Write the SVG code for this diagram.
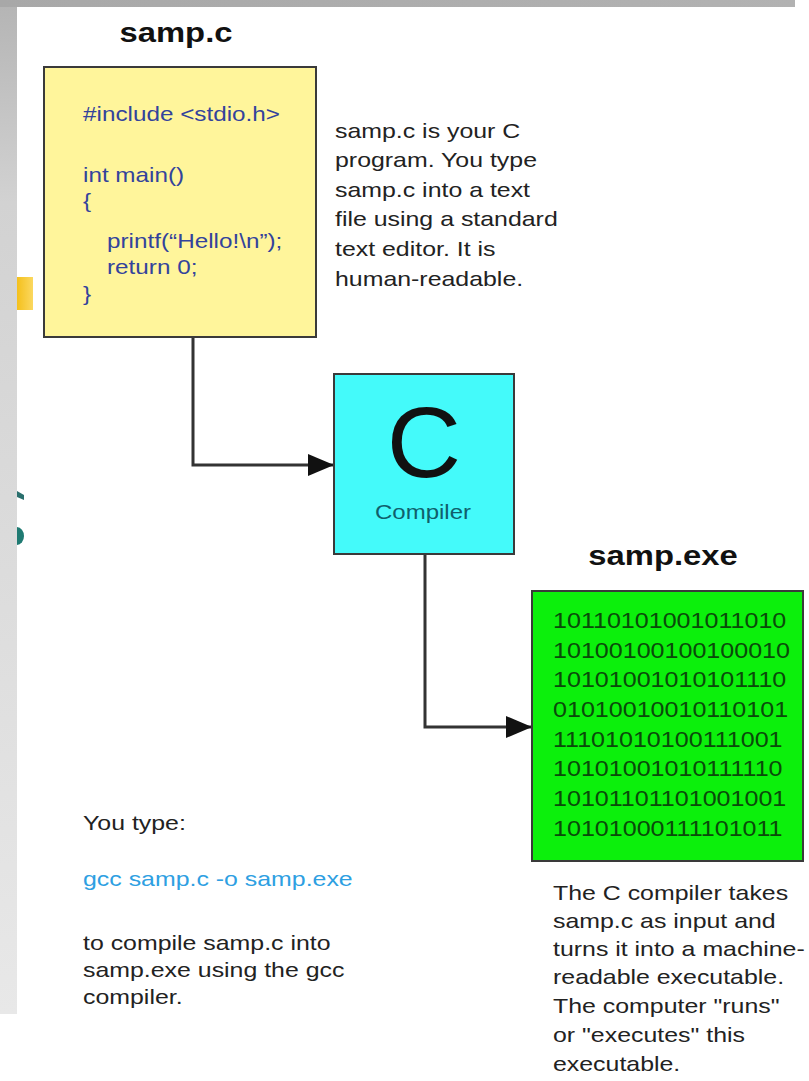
<svg xmlns="http://www.w3.org/2000/svg" width="809" height="1081" viewBox="0 0 809 1081">
  <defs>
    <linearGradient id="strip" x1="0" y1="0" x2="0" y2="1">
      <stop offset="0" stop-color="#b4b4b4"/>
      <stop offset="0.2" stop-color="#d2d2d2"/>
      <stop offset="1" stop-color="#e8e8e8"/>
    </linearGradient>
    <linearGradient id="bar" x1="0" y1="0" x2="1" y2="0">
      <stop offset="0" stop-color="#a8a8a8"/>
      <stop offset="1" stop-color="#b2b2b2"/>
    </linearGradient>
    <linearGradient id="orange" x1="0" y1="0" x2="1" y2="0">
      <stop offset="0" stop-color="#f4c01c"/>
      <stop offset="1" stop-color="#fbd860"/>
    </linearGradient>
    <marker id="arrow" markerUnits="userSpaceOnUse" markerWidth="28" markerHeight="24" refX="26" refY="12" orient="auto">
      <path d="M0,1 L26,12 L0,23 Z" fill="#111"/>
    </marker>
  </defs>
  <style>
    .title { font-family: "Liberation Sans", Arial, sans-serif; font-weight: bold; font-size: 28px; fill: #111; text-anchor: middle; }
    .body { font-family: "Liberation Sans", Arial, sans-serif; font-size: 21px; fill: #222; }
    .cmd { font-family: "Liberation Sans", Arial, sans-serif; font-size: 21px; fill: #2e9fe2; }
    .code { font-family: "Liberation Sans", Arial, sans-serif; font-size: 21px; fill: #33439c; }
    .bin { font-family: "Liberation Sans", Arial, sans-serif; font-size: 22px; fill: #0a4a0a; }
    .box { stroke: #3a3a3a; stroke-width: 2; }
    .conn { fill: none; stroke: #333; stroke-width: 3; }
  </style>

  <!-- background -->
  <rect x="0" y="0" width="809" height="1081" fill="#ffffff"/>
  <rect x="0" y="0" width="17" height="1014" fill="url(#strip)"/>
  <rect x="0" y="0" width="795" height="7" fill="url(#bar)"/>
  <rect x="17" y="277" width="16" height="33" fill="url(#orange)"/>
  <path d="M17,491 L24,495 L24,500 L17,497 Z" fill="#2a6f6d"/>
  <path d="M17,527 A7,9 0 0 1 17,545 Z" fill="#1f7a72"/>

  <!-- connectors -->
  <g id="connectors">
    <path class="conn" d="M193,338 V465 H334" marker-end="url(#arrow)"/>
    <path class="conn" d="M425,554 V727 H532" marker-end="url(#arrow)"/>
  </g>

  <!-- samp.c node -->
  <g id="node-sampc">
    <g transform="translate(176 0) scale(1.17 1)">
      <text class="title" x="0" y="42">samp.c</text>
    </g>
    <rect class="box" x="44" y="67" width="272" height="270" fill="#fff59b"/>
    <g transform="translate(83 0) scale(1.156 1)">
      <text class="code" x="0" y="121">#include &lt;stdio.h&gt;</text>
      <text class="code" x="0" y="182">int main()</text>
      <text class="code" x="0" y="208">{</text>
      <text class="code" x="20.8" y="248">printf(“Hello!\n”);</text>
      <text class="code" x="20.8" y="274">return 0;</text>
      <text class="code" x="0" y="301">}</text>
    </g>
  </g>

  <!-- samp.c description -->
  <g id="desc-sampc" transform="translate(335 0) scale(1.186 1)">
    <text class="body" x="0" y="138">samp.c is your C</text>
    <text class="body" x="0" y="167">program. You type</text>
    <text class="body" x="0" y="197">samp.c into a text</text>
    <text class="body" x="0" y="226">file using a standard</text>
    <text class="body" x="0" y="256">text editor. It is</text>
    <text class="body" x="0" y="286">human-readable.</text>
  </g>

  <!-- compiler node -->
  <g id="node-compiler">
    <rect class="box" x="334" y="374" width="180" height="180" fill="#44fafa"/>
    <g transform="translate(424 0) scale(1.03 1)">
      <text x="0" y="477" font-family="'Liberation Sans', Arial, sans-serif" font-size="100" fill="#111" text-anchor="middle">C</text>
    </g>
    <g transform="translate(423 0) scale(1.2 1)">
      <text x="0" y="519" font-family="'Liberation Sans', Arial, sans-serif" font-size="20" fill="#0f5f6c" text-anchor="middle">Compiler</text>
    </g>
  </g>

  <!-- samp.exe node -->
  <g id="node-sampexe">
    <g transform="translate(663 0) scale(1.17 1)">
      <text class="title" x="0" y="565">samp.exe</text>
    </g>
    <rect class="box" x="532" y="591" width="271" height="270" fill="#0cf00c"/>
    <g transform="translate(553 0) scale(1.14 1)">
      <text class="bin" x="0" y="628">10110101001011010</text>
      <text class="bin" x="0" y="658">10100100100100010</text>
      <text class="bin" x="0" y="687">10101001010101110</text>
      <text class="bin" x="0" y="717">01010010010110101</text>
      <text class="bin" x="0" y="747">11101010100111001</text>
      <text class="bin" x="0" y="776">10101001010111110</text>
      <text class="bin" x="0" y="806">10101101101001001</text>
      <text class="bin" x="0" y="836">10101000111101011</text>
    </g>
  </g>

  <!-- bottom-left instructions -->
  <g id="note-gcc" transform="translate(83 0) scale(1.186 1)">
    <text class="body" x="0" y="830">You type:</text>
    <text class="cmd" x="0" y="886">gcc samp.c -o samp.exe</text>
    <text class="body" x="0" y="950">to compile samp.c into</text>
    <text class="body" x="0" y="977">samp.exe using the gcc</text>
    <text class="body" x="0" y="1004">compiler.</text>
  </g>

  <!-- bottom-right description -->
  <g id="desc-exe" transform="translate(553 0) scale(1.186 1)">
    <text class="body" x="0" y="900">The C compiler takes</text>
    <text class="body" x="0" y="928">samp.c as input and</text>
    <text class="body" x="0" y="956">turns it into a machine-</text>
    <text class="body" x="0" y="984">readable executable.</text>
    <text class="body" x="0" y="1013">The computer "runs"</text>
    <text class="body" x="0" y="1042">or "executes" this</text>
    <text class="body" x="0" y="1071">executable.</text>
  </g>
</svg>
